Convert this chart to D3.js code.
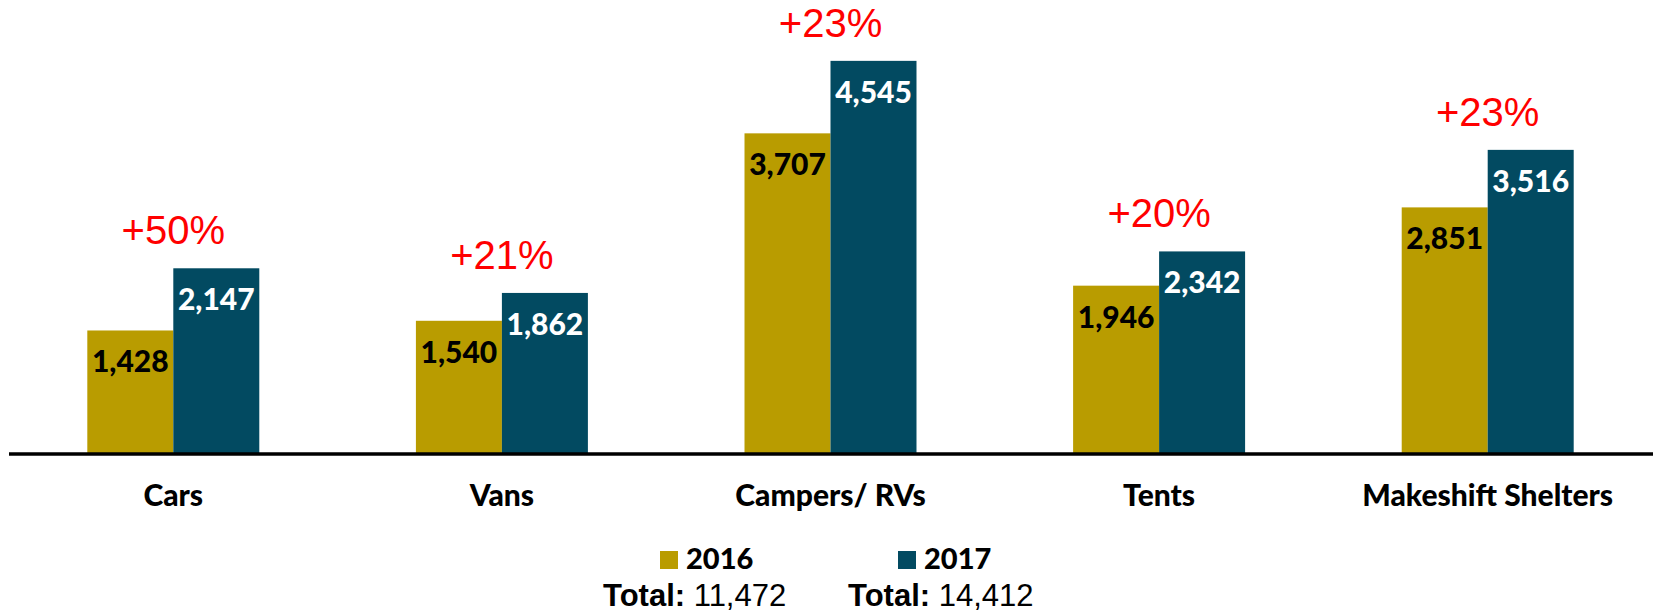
<!DOCTYPE html>
<html>
<head>
<meta charset="utf-8">
<script src="https://cdn.jsdelivr.net/npm/d3@7"></script>
<style>
  body { margin: 0; background: #fff; }
  svg { display: block; }
</style>
</head>
<body>
<div id="chart"></div>
<script>
// Data
const categories = ["Cars", "Vans", "Campers/ RVs", "Tents", "Makeshift Shelters"];
const years = ["2016", "2017"];
const values2016 = [1428, 1540, 3707, 1946, 2851];
const values2017 = [2147, 1862, 4545, 2342, 3516];

const width = 1653;
const height = 613;
const colors = { "2016": "#B99C00", "2017": "#024A61" };
const calibriLike = "Lato, 'Open Sans', sans-serif";
const arialLike = "'Liberation Sans', Arial, sans-serif";

const data = categories.map((c, i) => ({
    category: c,
    values: [
        { year: "2016", value: values2016[i] },
        { year: "2017", value: values2017[i] }
    ]
}));

const svg = d3.select("#chart")
    .append("svg")
    .attr("width", width)
    .attr("height", height);

const x0 = d3.scaleBand()
    .domain(categories)
    .range([9, 1652])
    .paddingInner(0.4766)
    .paddingOuter(0.2383);

const x1 = d3.scaleBand()
    .domain(years)
    .range([0, x0.bandwidth()]);

const y = d3.scaleLinear()
    .domain([0, 5000])
    .range([454, 21.5]);

// Bars
const groups = svg.selectAll(".group")
    .data(data)
    .enter()
    .append("g")
    .attr("class", "group")
    .attr("transform", d => `translate(${x0(d.category)},0)`);

groups.selectAll("rect")
    .data(d => d.values)
    .enter()
    .append("rect")
    .attr("x", d => x1(d.year))
    .attr("y", d => y(d.value))
    .attr("width", x1.bandwidth())
    .attr("height", d => y(0) - y(d.value))
    .attr("fill", d => colors[d.year]);

// Value labels inside the top of each bar
groups.selectAll(".val")
    .data(d => d.values)
    .enter()
    .append("text")
    .attr("class", "val")
    .attr("x", d => x1(d.year) + x1.bandwidth() / 2)
    .attr("y", d => y(d.value) + 42)
    .attr("text-anchor", "middle")
    .style("font-family", calibriLike)
    .style("font-weight", "900")
    .style("font-size", "30px")
    .attr("fill", d => d.year === "2016" ? "#000" : "#fff")
    .text(d => d3.format(",")(d.value));

// Percent change labels
groups.append("text")
    .attr("x", x0.bandwidth() / 2)
    .attr("y", d => y(d3.max(d.values, v => v.value)) - 24)
    .attr("text-anchor", "middle")
    .style("font-family", arialLike)
    .style("font-size", "40px")
    .attr("fill", "#FF0000")
    .text(d => "+" + Math.round((d.values[1].value / d.values[0].value - 1) * 100) + "%");

// Axis baseline + category labels
const xAxis = svg.append("g")
    .attr("transform", `translate(0,${y(0)})`)
    .call(d3.axisBottom(x0).tickSize(0).tickPadding(0));

xAxis.select(".domain")
    .attr("d", `M9,0H${width}`)
    .attr("stroke", "#000")
    .attr("stroke-width", 3.5);

xAxis.selectAll(".tick text")
    .attr("dy", null)
    .attr("y", 52)
    .style("font-family", calibriLike)
    .style("font-weight", "900")
    .style("font-size", "30px")
    .attr("fill", "#000");

// Legend with totals
const legendX = d3.scalePoint()
    .domain(years)
    .range([603, 848]);

const totals = [d3.sum(values2016), d3.sum(values2017)];

const legend = svg.selectAll(".legend-item")
    .data(years)
    .enter()
    .append("g")
    .attr("class", "legend-item")
    .attr("transform", d => `translate(${legendX(d)},0)`);

legend.append("rect")
    .attr("x", (d, i) => i === 0 ? 57 : 50)
    .attr("y", 551)
    .attr("width", 18)
    .attr("height", 18)
    .attr("fill", d => colors[d]);

legend.append("text")
    .attr("x", (d, i) => i === 0 ? 83 : 76)
    .attr("y", 569)
    .style("font-family", calibriLike)
    .style("font-weight", "900")
    .style("font-size", "29px")
    .text(d => d);

const totalText = legend.append("text")
    .attr("x", 0)
    .attr("y", 606)
    .style("font-family", arialLike)
    .style("font-size", "31px");

totalText.append("tspan")
    .style("font-weight", "bold")
    .text("Total:");

totalText.append("tspan")
    .text((d, i) => " " + d3.format(",")(totals[i]));
</script>
</body>
</html>
